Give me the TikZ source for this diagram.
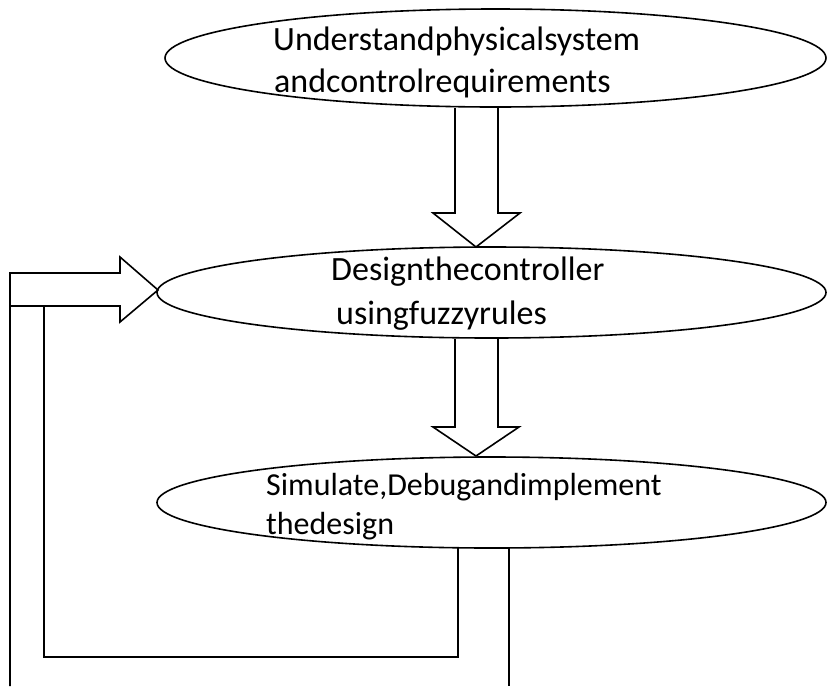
\documentclass[tikz,border=0pt]{standalone}
\usepackage{fontspec}
\setmainfont{Carlito}
\usetikzlibrary{shapes.geometric}
\tikzset{
  oval/.style={draw, ellipse, line width=1.6pt, inner sep=0pt},
  lbl/.style={anchor=base west, inner sep=0pt, font=\fontsize{34}{40}\selectfont},
  lblsmall/.style={anchor=base west, inner sep=0pt, font=\fontsize{32}{38}\selectfont},
  blk/.style={draw, line width=1.6pt, line join=miter},
}
\begin{document}
\begin{tikzpicture}[x=1pt,y=-1pt]
\useasboundingbox (0,0) rectangle (827,686);
% ellipses
\node[oval, minimum width=661pt, minimum height=98pt] (e1) at (495.5,58) {};
\node[oval, minimum width=669pt, minimum height=91pt] (e2) at (491.5,292.5) {};
\node[oval, minimum width=669pt, minimum height=91pt] (e3) at (491.5,502.5) {};
% texts
\node[lbl] (t1a) at (273,50) {Understandphysicalsystem};
\node[lbl] (t1b) at (274,92) {andcontrolrequirements};
\node[lbl] (t2a) at (331,280) {Designthecontroller};
\node[lbl] (t2b) at (336,324) {usingfuzzyrules};
\node[lblsmall] (t3a) at (266,495) {Simulate,Debugandimplement};
\node[lblsmall] (t3b) at (266,534) {thedesign};
% block arrow 1
\coordinate (a1) at (476,247);
\draw[blk] (455,108) -- (455,213) -- (433,213) -- (a1) -- (520,213) -- (498,213) -- (498,108);
% block arrow 2
\coordinate (a2) at (476,456);
\draw[blk] (455,339) -- (455,427) -- (433,427) -- (a2) -- (519,427) -- (498,427) -- (498,339);
% feedback block arrow
\coordinate (fb) at (158,290);
\draw[blk] (10,686) -- (10,273) -- (120,273) -- (120,257) -- (fb) -- (120,322) -- (120,306) -- (10,306);
\draw[blk] (44,306) -- (44,657) -- (458,657) -- (458,548);
\draw[blk] (509,548) -- (509,686);
\end{tikzpicture}
\end{document}
